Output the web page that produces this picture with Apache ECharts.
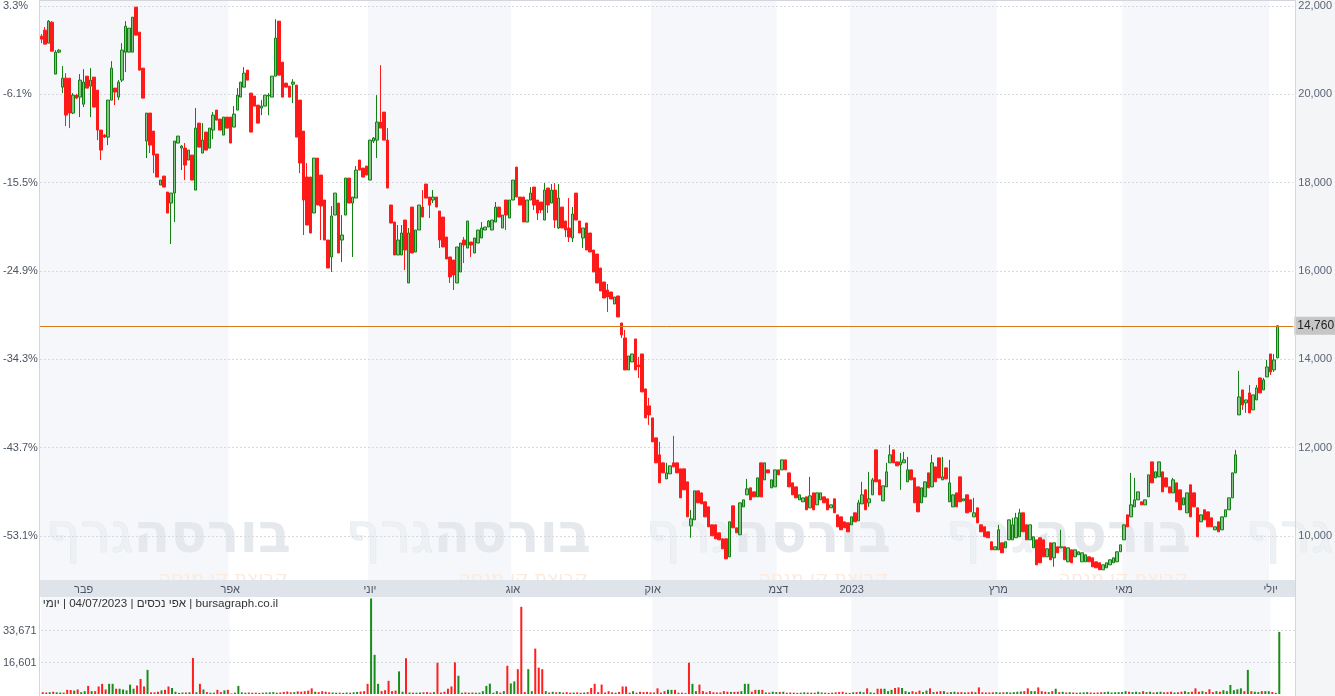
<!DOCTYPE html>
<html><head><meta charset="utf-8">
<script src="https://cdn.jsdelivr.net/npm/echarts/dist/echarts.min.js"></script>
<style>html,body{margin:0;padding:0;background:#fff}#c{width:1335px;height:696px}</style>
</head><body><div id="c"></div>
<script>
const priceTicks = [10000, 12000, 14000, 16000, 18000, 20000, 22000];
const pctLabels = ['-53.1%', '-43.7%', '-34.3%', '-24.9%', '-15.5%', '-6.1%', '3.3%'];
const volTicks = [16601, 33671];
const monthNames = ['פבר', 'אפר', 'יוני', 'אוג', 'אוק', 'דצמ', '2023', 'מרץ', 'מאי', 'יולי'];
const monthStarts = [12, 54, 94, 135, 175, 211, 232, 274, 310, 352];
const headerText = 'bursagraph.co.il | אפי נכסים | 04/07/2023 | יומי';

const open = [
21321,21457,21162,21638,20461,20959,20166,20370,20370,19578,19985,19940,19781,20415,20189,20393,20098,19193,19080,19034,
19872,20144,19940,20325,20959,20959,20959,21978,21411,20596,18944,19578,19170,18650,17948,18151,17789,17540,17766,18899,
18785,18785,18514,18627,17834,19351,18672,19148,18785,19193,19646,19442,19080,19487,19487,19261,19646,19940,20166,20551,
20031,19963,19759,19691,19736,19963,19940,20415,21661,20732,20257,20189,20234,20212,19872,
19170,18129,18129,17314,18559,18174,17608,16702,16318,17268,17540,16702,17268,18106,17540,17653,18514,18332,18378,18061,
18944,18966,19374,19600,18966,17495,17110,16363,16363,17155,15729,17449,16431,16929,17449,17970,17676,17608,17676,17359,
17223,16770,16318,16250,15729,15978,16702,16521,16657,16408,16634,16748,16929,16997,16929,17110,17449,16974,17608,17201,
17608,18355,17676,17676,17110,17608,17902,17608,17563,17155,17880,17540,17834,16974,17449,17133,16974,16748,17766,17133,
16748,17087,16861,16476,16385,16068,15752,15570,15525,15253,15435,
14823,14484,13759,13940,14461,13872,14121,13329,12944,12672,12220,11835,11654,11291,11405,11654,11654,11518,11518,11224,
10227,10363,11020,10974,10771,10657,10250,10250,10069,9933,9933,9525,10680,10182,10024,10657,10929,11088,10997,10884,
11654,11269,11495,11088,11110,11495,11495,11722,11427,11201,11110,10816,10771,10884,10635,10974,10703,10816,10884,10839,
10635,10839,10476,10431,10318,10295,10250,
10522,10341,10725,11042,10748,10929,11948,11269,10793,11110,11654,11948,11676,11608,11654,
11224,11495,11314,11110,10748,10884,11427,11110,11563,11767,11269,11540,10771,10657,10974,11337,10793,10929,10816,10431,
10635,10250,10205,10092,9865,9684,9684,9842,9729,9910,9910,9956,9979,10522,10250,
9910,9729,9910,9956,9910,9525,9842,9503,9752,9729,9752,9412,9684,9525,9571,
9412,9412,9525,9503,9412,9390,9231,9276,
9344,9390,9412,9639,9910,10476,10431,10657,10816,10771,10703,10884,11676,11314,11337,
11450,11314,11110,
10974,11201,11042,10703,10522,11156,10974,10635,10318,10590,10544,10409,10137,10318,10137,10431,10590,10861,11427,
12740,13306,13012,13238,12854,13080,13578,13306,13601,14121,13759,14031
];
const close = [
21253,21140,21661,20981,20959,21004,20370,19532,19578,19985,19917,20325,20280,20144,20325,19714,19193,18740,19034,19872,
20596,20053,20280,21004,21547,21502,21751,21344,20551,19917,19578,18853,18627,18129,18061,17902,17314,17766,18944,19057,
18831,18400,18740,18061,19238,18808,18966,18740,19238,19532,19419,19193,19487,19238,18899,19555,19985,20280,20483,20325,
19148,19736,19351,19736,19985,19985,20415,21276,20438,19940,20166,19940,20280,19034,18446,
17608,17042,16861,18559,17495,17472,16702,16068,17246,17766,16408,16816,18106,17540,17676,18287,18287,18129,18174,18966,
19012,19374,19238,18966,17880,17087,16363,16702,16861,16476,16861,16408,16929,17495,17223,17653,17495,17676,17449,16702,
16544,16272,15865,15910,16544,16634,16589,17133,16589,16748,16929,16974,16997,17133,17155,17449,17223,17268,17268,17608,
18061,17676,17495,17110,17608,17766,17495,17314,17382,17834,17495,17834,17155,17653,16974,16929,16770,17291,17155,16861,
16974,16476,16431,15978,15729,15548,15389,15412,15367,15412,14959,
14552,13759,14076,14121,13759,13827,13261,12672,12740,12129,11654,11201,11427,11427,11586,11563,11427,10861,11042,10431,
10386,11020,10748,10725,10431,10205,10001,9933,9910,9707,9480,10318,10182,10069,10748,10816,11065,10816,10884,11314,
10884,11654,11427,11269,11495,11382,11722,11495,11110,10929,10861,10929,10861,10590,10906,10590,10974,10974,10748,10590,
10703,10522,10205,10137,10182,10092,10431,
10318,10748,10929,10590,10839,11269,11224,10929,11133,11450,11835,11654,11586,11676,11722,
11495,11269,10748,10544,11088,11224,11088,11654,11224,11314,11337,11291,11201,10929,10657,10771,10839,10522,10544,10522,
10295,10092,9979,9956,9684,9752,10137,9616,9865,10363,10250,10409,10522,10092,9910,
10250,9979,9344,9390,9525,9707,9458,9842,9616,9752,9458,9729,9390,9684,9639,
9616,9571,9412,9299,9276,9231,9344,9390,
9458,9503,9639,9797,10250,10205,10703,10816,10997,10703,10816,11382,11201,11450,11676,
10997,11110,10974,
11269,10771,10590,10861,10974,10431,10657,9979,10476,10363,10205,10205,10205,10092,10431,10590,10861,11427,11835,
13148,12967,13080,12786,13193,13352,13238,13533,13827,13714,13986,14760
];
const low = [
21162,21140,21162,20981,20461,20936,20031,19284,19238,19555,19895,19487,19714,20144,19487,19714,18966,18514,19012,18853,
19872,19759,19872,20280,20506,20959,20959,21344,20551,19917,18559,18672,18219,18129,17948,17902,17314,16612,17110,18899,
18287,18061,18514,18061,17834,18808,18672,18740,18785,18989,19419,19193,19080,19238,18899,19261,19646,19940,20166,20325,
19148,19736,19351,19532,19736,19532,19940,20415,20438,19940,20166,19940,19804,19034,18219,
16816,17042,16861,17314,17495,16702,16702,16068,15978,17268,16408,16204,17268,17540,16318,17653,18287,18129,18174,18061,
18899,18559,19238,18966,17880,17087,16363,16363,16363,16023,15729,16408,16431,16929,17223,17653,17201,17540,17449,16521,
16544,16272,15729,15570,15729,15978,16182,16521,16318,16408,16634,16748,16929,16997,16929,17110,17223,16974,16929,17201,
17608,17676,17495,17110,17110,17608,17382,17155,17314,17155,17314,17540,16974,16951,16974,16770,16657,16657,17155,16861,
16521,16476,16431,15978,15729,15548,15389,15072,15367,15253,14959,
14484,13759,13759,13940,13759,13578,13261,12672,12514,12129,11654,11201,11427,11291,11405,11563,11427,10861,11042,10431,
9956,10363,10748,10725,10431,10205,10001,9933,9910,9707,9480,9525,10182,10069,10024,10657,10929,10816,10884,10884,
10884,11269,11427,11088,11110,11382,11495,11495,11110,10929,10861,10816,10771,10590,10635,10590,10703,10816,10748,10590,
10635,10522,10205,10137,10182,10092,10250,
10318,10341,10725,10590,10657,10929,11224,10929,10793,11110,11654,11654,11586,11042,11654,
11224,11269,10748,10544,10748,10884,11088,11110,11224,11314,11269,11291,10771,10657,10657,10771,10793,10522,10544,10431,
10295,10092,9979,9956,9684,9684,9684,9616,9729,9910,9910,9956,9979,10092,9910,
9910,9729,9344,9390,9525,9525,9458,9299,9616,9729,9458,9412,9390,9525,9571,
9412,9412,9412,9299,9276,9231,9231,9276,
9344,9390,9412,9639,9910,10205,10431,10657,10816,10703,10703,10884,11201,11314,11337,
10997,11110,10974,
10974,10771,10590,10703,10522,10431,10657,9979,10318,10363,10205,10205,10137,10092,10137,10431,10590,10861,11427,
12740,12854,12786,12786,12854,13080,13238,13306,13601,13646,13714,14031
];
const high = [
21366,21525,21683,21661,21004,21027,20642,20483,20370,20031,20008,20461,20574,20415,20596,20393,20098,19193,19102,19872,
20755,20144,20325,21162,21661,21502,21751,21978,21411,20596,19578,19578,19170,18650,18061,18151,17789,17766,18944,19057,
18853,18899,18740,18627,19691,19351,19351,19148,19238,19600,19646,19442,19487,19487,19487,19736,20144,20280,20619,20551,
20031,19963,19759,19872,19985,20031,20415,21706,21661,20732,20257,20189,20347,20212,19872,
19170,18446,18129,18559,18559,18174,17608,16702,17472,17766,17540,17268,18106,18106,17676,18378,18514,18332,18378,18966,
19034,19985,20664,19600,19238,17495,17110,17042,17042,17155,16974,17449,16929,17495,17834,17970,17676,17834,17676,17359,
17223,16770,16318,16250,16544,16634,16770,17133,16657,16748,16929,17110,16997,17155,17155,17563,17449,17268,17608,17608,
18061,18355,17676,17676,17608,17902,17902,17608,17563,17993,17880,17970,17993,17970,17449,17133,17653,17449,17766,17133,
16974,17087,16861,16476,16385,16068,15752,15706,15525,15412,15435,
14823,14665,14076,14121,14461,14054,14121,13329,13125,12672,12220,12129,11654,11654,11586,12265,11654,11518,11518,11224,
10590,11020,11020,10974,10771,10657,10250,10250,10069,9933,9933,10318,10680,10182,10748,10816,11291,11088,10997,11314,
11654,11654,11495,11269,11495,11495,11722,11722,11427,11201,11110,10929,10861,10884,11337,10974,10974,10974,10884,10839,
10703,10839,10476,10431,10318,10295,10431,
10522,10816,11224,11042,11450,11314,11948,11269,11133,11654,12061,11948,11676,11880,11903,
11789,11495,11314,11110,11088,11224,11427,11835,11563,11767,11789,11540,11722,10929,10974,11337,10839,10929,10816,10861,
10635,10250,10205,10092,9865,9752,10250,9842,9865,10363,10409,10522,10612,10522,10250,
10250,9979,9910,9956,9910,9707,9842,9842,9752,10137,9752,9729,9684,9684,9639,
9616,9571,9525,9503,9412,9390,9344,9390,
9458,9503,9639,9797,10250,10476,11427,11314,10997,10771,10816,11382,11676,11450,11676,
11450,11314,11110,
11314,11201,11042,10861,10974,11156,10974,10635,10476,10590,10544,10409,10205,10318,10431,10590,10861,11427,11948,
13736,13306,13080,13419,13193,13419,13578,13578,13986,14121,14121,14760
];
const volume = [
950,800,950,1200,900,800,700,2200,2100,1800,2400,950,1500,
4300,1500,1500,4000,5400,2400,5400,5400,
2800,2800,2400,1900,5000,2800,4500,8000,4000,12800,
900,900,1200,1900,2200,4000,3200,
1200,600,800,800,900,19100,900,5400,
2400,1000,700,700,2200,1000,1900,2200,300,700,4300,
900,700,800,700,700,600,700,800,900,1000,700,800,1100,1300,900,1000,1400,1200,
1500,1800,3000,1200,1000,1500,1200,900,800,700,700,600,800,700,900,1100,1300,1500,
5400,50700,20800,5400,1500,2000,7000,1500,1800,12000,1200,19000,
800,700,700,800,900,1000,700,1000,
16600,800,1200,2800,4000,16800,9700,
700,900,700,800,700,700,1500,
4300,5500,700,1500,700,1500,15000,5600,6700,13200,46300,1000,13200,1500,24100,14000,13200,1500,800,
1200,900,1100,800,1000,700,800,900,700,800,1000,3200,5400,
1000,5000,800,1500,900,700,1100,
4000,4000,700,1500,700,1200,1000,1100,
900,800,3000,700,1500,2200,2200,2200,700,700,500,
16600,5400,1500,5000,
1500,900,1500,900,800,800,1500,1200,1100,1100,1200,
1500,5400,5400,
1200,2200,2200,2200,800,800,1200,1000,1100,1200,700,
800,700,600,700,900,800,700,700,1200,800,700,600,700,900,1000,1200,700,600,900,
1000,1200,900,3000,
900,600,2800,2800,2800,1500,2200,3200,3500,3200,1500,
1000,1500,900,1800,1000,1800,3000,1000,1200,1500,1500,800,1000,1200,900,1000,800,900,1200,900,
3500,900,800,800,900,1000,800,900,1000,800,1000,1200,1300,1500,
3000,1500,1500,3500,1500,1200,1000,1500,2800,
1000,1200,800,1000,800,700,800,900,1000,800,700,800,900,1000,1200,800,900,1000,1000,1500,
1200,1000,1200,900,1500,1000,1200,800,1000,1200,900,1000,1200,800,900,1200,1500,1000,1200,
3000,1200,1500,1000,2500,1000,1500,1200,2000,1500,4800,2000,2500,
3000,1500,12800,1500,1200,1000,1500,1500,1500,1100,600,33000
];

const FONT = '"Liberation Sans", Arial, sans-serif';
const HEB = '"DejaVu Sans", "Liberation Sans", sans-serif';
const N = open.length;
const PAD = 4;
const cats = Array.from({length: N + PAD}, (_, i) => String(i));
const candleData = open.map((o, i) => [o, close[i], low[i], high[i]]);
const volData = volume.map((v, i) => ({
  value: v,
  itemStyle: {color: close[i] >= open[i] ? '#1a8c1a' : '#ff1f1f'}
}));
const lastPrice = close[N - 1];
const ms = monthStarts;
const grayBands = [[0, ms[1]], [ms[2], ms[3]], [ms[4], ms[5]], [ms[6], ms[7]], [ms[8], ms[9]]];
const bandData = grayBands.map(([a, b]) => [{xAxis: a - 0.5}, {xAxis: b - 0.5}]);

const chart = echarts.init(document.getElementById('c'), null, {renderer: 'canvas', width: 1335, height: 696});

const graphics = [
  {type: 'rect', z: -10, silent: true, shape: {x: 1295, y: 0, width: 40, height: 696}, style: {fill: '#f4f5f7'}},
  {type: 'line', z: 6, silent: true, shape: {x1: 1295.5, y1: 0, x2: 1295.5, y2: 696}, style: {stroke: '#d3d7dd', lineWidth: 1}},
  {type: 'line', z: 6, silent: true, shape: {x1: 39.5, y1: 0, x2: 39.5, y2: 696}, style: {stroke: '#d3d7dd', lineWidth: 1}},
  {type: 'line', z: 6, silent: true, shape: {x1: 40, y1: 0.5, x2: 1295, y2: 0.5}, style: {stroke: '#d3d7dd', lineWidth: 1}},
  {type: 'rect', z: 4, silent: true, shape: {x: 40, y: 580, width: 1255, height: 17}, style: {fill: '#dfe3ea'}},
  {type: 'text', z: 5, silent: true, style: {text: '\u202B' + headerText + '\u202C', x: 278, y: 604, align: 'right', verticalAlign: 'middle', font: '11.6px ' + FONT, fill: '#333'}}
];
for (let k = 0; k < 5; k++) {
  const rx = 291 + 300 * k;
  graphics.push({type: 'text', z: 1.5, silent: true, style: {
    text: '{g|גרף}{b|בורסה}', x: rx, y: 538, align: 'right', verticalAlign: 'middle',
    rich: {
      g: {fontFamily: HEB, fontSize: 54, fontWeight: 'normal', fill: '#eef1f4', stroke: '#e2e6eb', lineWidth: 1},
      b: {fontFamily: HEB, fontSize: 54, fontWeight: 'bold', fill: '#e5e9ee'}
    }}});
  graphics.push({type: 'text', z: 1.5, silent: true, style: {text: 'קבוצת קו מנחה', x: rx - 3, y: 579, align: 'right', verticalAlign: 'middle', font: '19px ' + HEB, fill: '#fcebdd'}});
}

const option = {
  animation: false,
  backgroundColor: '#ffffff',
  grid: [
    {left: 40, right: 40, top: 0, height: 580},
    {left: 40, right: 40, top: 597, height: 97}
  ],
  xAxis: [
    {type: 'category', gridIndex: 0, data: cats, boundaryGap: true, z: 5,
     axisLine: {show: false}, axisTick: {show: false}, splitLine: {show: false},
     axisLabel: {interval: (i) => ms.indexOf(i) >= 0, formatter: (v, i) => { const k = ms.indexOf(i); return k >= 0 ? monthNames[k] : ''; },
       color: '#4b5563', fontSize: 11, margin: 4, fontFamily: FONT}},
    {type: 'category', gridIndex: 1, data: cats, boundaryGap: true,
     axisLine: {show: false}, axisTick: {show: false}, axisLabel: {show: false}, splitLine: {show: false}},
    {type: 'value', gridIndex: 0, min: -0.5, max: N + PAD - 0.5, show: false},
    {type: 'value', gridIndex: 1, min: -0.5, max: N + PAD - 0.5, show: false}
  ],
  yAxis: [
    {type: 'value', gridIndex: 0, position: 'right', min: 9000, max: 22140, z: 1.8,
     axisLine: {show: false}, axisTick: {show: false, customValues: priceTicks},
     axisLabel: {customValues: priceTicks, formatter: (v) => v.toLocaleString('en-US'), color: '#5b6577', fontSize: 11, margin: 5, fontFamily: FONT},
     splitLine: {show: true, lineStyle: {color: '#d6dae0', type: [2, 2], width: 1}}},
    {type: 'value', gridIndex: 0, position: 'left', min: 9000, max: 22140, z: 1.8,
     axisLine: {show: false}, axisTick: {show: false, customValues: priceTicks},
     axisLabel: {customValues: priceTicks, formatter: (v) => { const k = priceTicks.indexOf(v); return k >= 0 ? pctLabels[k] : ''; },
       color: '#4b5563', fontSize: 11, margin: 37, align: 'left', fontFamily: FONT},
     splitLine: {show: false}},
    {type: 'value', gridIndex: 1, position: 'left', min: 0, max: 51500, z: 1.8,
     axisLine: {show: false}, axisTick: {show: false, customValues: volTicks},
     axisLabel: {customValues: volTicks, formatter: (v) => v.toLocaleString('en-US'), color: '#4b5563', fontSize: 11, margin: 38, align: 'left', fontFamily: FONT},
     splitLine: {show: true, lineStyle: {color: '#d6dae0', type: [2, 2], width: 1}}}
  ],
  graphic: {elements: graphics},
  series: [
    {type: 'line', xAxisIndex: 2, yAxisIndex: 0, data: [], z: 0, silent: true,
     markArea: {silent: true, z: 1, itemStyle: {color: '#f5f7fa'}, data: bandData}},
    {type: 'line', xAxisIndex: 3, yAxisIndex: 2, data: [], z: 0, silent: true,
     markArea: {silent: true, z: 1, itemStyle: {color: '#f5f7fa'}, data: bandData}},
    {type: 'candlestick', xAxisIndex: 0, yAxisIndex: 0, data: candleData, z: 2, barWidth: 3,
     itemStyle: {color: 'rgba(40,150,40,0.55)', color0: '#ff1a1a', borderColor: '#128012', borderColor0: '#ff1a1a', borderWidth: 1},
     markLine: {silent: true, symbol: ['none', 'none'], animation: false,
       data: [{yAxis: lastPrice}],
       lineStyle: {color: '#d67a1c', width: 1, type: 'solid'},
       label: {show: true, position: 'end', distance: 1, formatter: () => lastPrice.toLocaleString('en-US'),
         color: '#222', backgroundColor: '#c6c6c6', padding: [3, 3, 3, 3], fontSize: 12, fontFamily: FONT}}},
    {type: 'bar', xAxisIndex: 1, yAxisIndex: 2, data: volData, z: 2, barWidth: 2}
  ]
};
chart.setOption(option);
</script>
</body></html>
